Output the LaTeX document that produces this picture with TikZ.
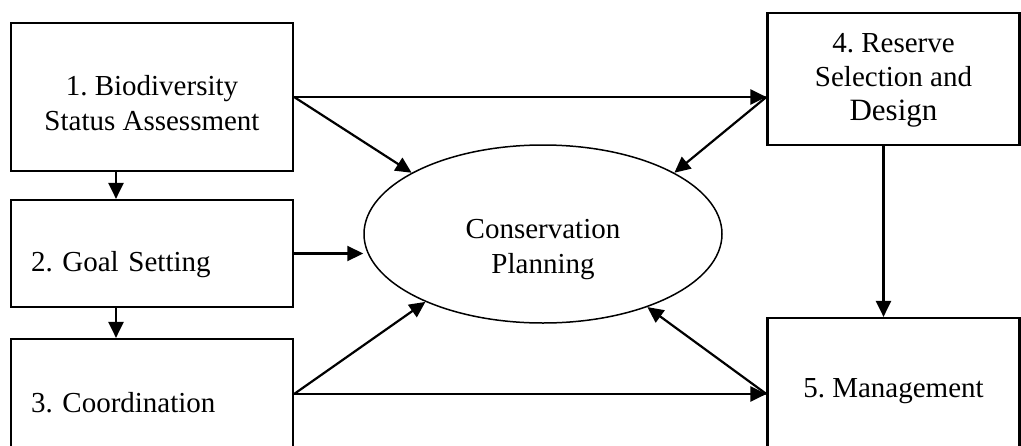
\documentclass[tikz,border=0pt]{standalone}
\usepackage{fontspec}
\setmainfont{Liberation Serif}
\usetikzlibrary{shapes.geometric,arrows.meta}

\begin{document}
\frenchspacing
\begin{tikzpicture}[x=1pt, y=-1pt,
        box/.style={draw, line width=2.2pt, minimum width=282pt, inner sep=0pt, align=center, text depth=6pt, font=\fontsize{29}{35}\selectfont},
        leftbox/.style={box, text width=242pt, align=left},
        arr/.style={-{Triangle[length=16pt,width=15pt]}, line width=2.2pt}]
    \useasboundingbox (0,0) rectangle (1021,445);
    \clip (0,0) rectangle (1021,445);
    % steps on the left
    \node[box, minimum height=148pt, text height=72pt] (b1) at (152,97) {1. Biodiversity\\Status Assessment};
    \node[leftbox, minimum height=107pt, text height=41pt] (b2) at (152,253.5) {2. Goal Setting};
    \node[leftbox, minimum height=110pt, text height=42pt] (b3) at (152,394) {3. Coordination};
    % steps on the right
    \node[box, minimum width=252pt, minimum height=132pt, text height=88pt, font=\fontsize{29}{34}\selectfont] (b4) at (893.5,79) {4. Reserve\\Selection and\\{\fontsize{31}{36}\selectfont Design}};
    \node[box, minimum width=252pt, minimum height=152pt, text height=12pt] (b5) at (893.5,394) {5. Management};
    % centre
    \node[draw, ellipse, line width=1.5pt, minimum width=358pt, minimum height=178pt, inner sep=0pt, align=center, text height=84pt, text depth=6pt, font=\fontsize{29}{35}\selectfont] (cp) at (543,234) {Conservation\\Planning};
    \coordinate (j4) at (b1.east -| b4.west);
    \draw[arr] ([xshift=-36pt]b1.south) -- ([xshift=-36pt]b2.north);
    \draw[arr] ([xshift=-36pt]b2.south) -- ([xshift=-36pt]b3.north);
    \draw[arr] (b1.east) -- (j4);
    \draw[arr] (b1.east) -- (cp.155);
    \draw[arr] (j4) -- (cp.25);
    \draw[arr] (b2.east) -- (b2.east -| cp.west);
    \draw[arr] (b3.east) -- (cp.210);
    \draw[arr] (b3.east) -- (b5.west);
    \draw[arr] (b5.west) -- (cp.325);
    \draw[arr] ([xshift=-10pt]b4.south) -- ([xshift=-10pt]b4.south |- b5.north);
\end{tikzpicture}
\end{document}
